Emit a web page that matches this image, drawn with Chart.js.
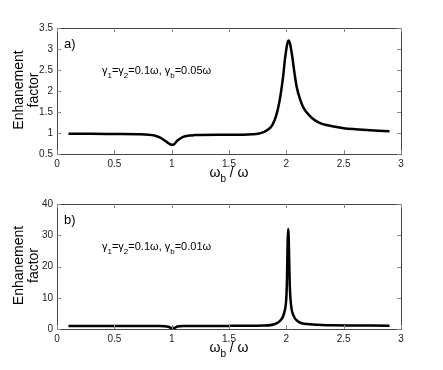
<!DOCTYPE html>
<html>
<head>
<meta charset="utf-8">
<script src="https://cdn.jsdelivr.net/npm/chart.js@4.4.0/dist/chart.umd.min.js"></script>
<style>
  body { margin: 0; background: #fff; }
  .box { position: absolute; left: 0; width: 443px; height: 185px; }
</style>
</head>
<body>
<div class="box" style="top:0"><canvas id="chartA"></canvas></div>
<div class="box" style="top:185px"><canvas id="chartB"></canvas></div>
<script>
// panel a) gamma_b = 0.05 omega
var xA = [0.1, 0.3, 0.5, 0.7, 0.8, 0.85, 0.9, 0.95, 1.0, 1.02, 1.05, 1.1, 1.15, 1.2, 1.4, 1.6, 1.7, 1.75,
          1.8, 1.85, 1.88, 1.91, 1.94, 1.97, 1.99, 2.01, 2.02, 2.03, 2.05, 2.07, 2.09, 2.12, 2.15, 2.2,
          2.25, 2.3, 2.35, 2.4, 2.45, 2.5, 2.6, 2.7, 2.8, 2.9];
var yA = [0.98, 0.98, 0.975, 0.97, 0.96, 0.94, 0.89, 0.80, 0.72, 0.73, 0.82, 0.91, 0.94, 0.95, 0.96, 0.96, 0.97, 0.98,
          1.02, 1.1, 1.2, 1.4, 1.75, 2.3, 2.8, 3.15, 3.2, 3.15, 2.85, 2.45, 2.1, 1.8, 1.6, 1.42,
          1.3, 1.23, 1.19, 1.16, 1.135, 1.115, 1.09, 1.07, 1.055, 1.04];

// panel b) gamma_b = 0.01 omega
var xB = [0.1, 0.5, 0.9, 0.97, 1.0, 1.02, 1.05, 1.1, 1.5, 1.8, 1.9, 1.95, 1.98, 2.0, 2.005, 2.01, 2.015,
          2.02, 2.025, 2.03, 2.04, 2.06, 2.1, 2.2, 2.4, 2.9];
var yB = [1.0, 1.0, 0.95, 0.7, 0.3, 0.3, 0.8, 0.95, 1.0, 1.1, 1.6, 2.8, 5, 10, 15, 25, 32,
          30, 22, 14, 8, 4.5, 2.5, 1.5, 1.2, 1.05];

var xTicks = [0, 0.5, 1, 1.5, 2, 2.5, 3];
var yTicksA = [0.5, 1, 1.5, 2, 2.5, 3, 3.5];
var yTicksB = [0, 10, 20, 30, 40];

var font = "'Liberation Sans', Arial, sans-serif";

function pts(xs, ys) {
  var out = [];
  for (var i = 0; i < xs.length; i++) out.push({ x: xs[i], y: ys[i] });
  return out;
}

// box, inward ticks, labels
var decor = {
  id: "decor",
  afterDraw: function(chart) {
    var c = chart.ctx, a = chart.chartArea, o = chart.options.plugins.decor;
    var sx = chart.scales.x, sy = chart.scales.y;
    c.save();
    c.strokeStyle = "#444";
    c.lineWidth = 1;
    c.strokeRect(a.left + 0.5, a.top + 0.5, a.right - a.left, a.bottom - a.top);
    c.strokeStyle = "#888";
    c.beginPath();
    xTicks.forEach(function(t) {
      var px = Math.round(sx.getPixelForValue(t)) + 0.5;
      c.moveTo(px, a.bottom); c.lineTo(px, a.bottom - 4);
      c.moveTo(px, a.top); c.lineTo(px, a.top + 4);
    });
    o.yTicks.forEach(function(t) {
      var py = Math.round(sy.getPixelForValue(t)) + 0.5;
      c.moveTo(a.left, py); c.lineTo(a.left + 4, py);
      c.moveTo(a.right, py); c.lineTo(a.right - 4, py);
    });
    c.stroke();

    c.fillStyle = "#000";
    c.textBaseline = "alphabetic";
    c.font = "13px " + font;
    c.textAlign = "left";
    c.fillText(o.tag, 64, a.top + 20);

    // annotation with subscripts
    var x = 102, y = a.top + 46;
    var parts = [["\u03b3", 0], ["1", 1], ["=\u03b3", 0], ["2", 1], ["=0.1\u03c9, \u03b3", 0], ["b", 1], [o.gb, 0]];
    parts.forEach(function(p) {
      c.font = (p[1] ? "8px " : "11px ") + font;
      c.fillText(p[0], x, y + (p[1] ? 4 : 0));
      x += c.measureText(p[0]).width;
    });

    // x title
    c.font = "14px " + font;
    var w1 = c.measureText("\u03c9").width;
    c.font = "10px " + font;
    var w2 = c.measureText("b").width;
    c.font = "14px " + font;
    var w3 = c.measureText(" / \u03c9").width;
    var tx = (a.left + a.right) / 2 - (w1 + w2 + w3) / 2;
    var ty = a.bottom + 23;
    c.fillText("\u03c9", tx, ty);
    c.font = "10px " + font;
    c.fillText("b", tx + w1, ty + 5);
    c.font = "14px " + font;
    c.fillText(" / \u03c9", tx + w1 + w2, ty);

    // y title
    c.translate(0, (a.top + a.bottom) / 2 - 1);
    c.rotate(-Math.PI / 2);
    c.textAlign = "center";
    c.font = "14px " + font;
    c.fillText("Enhanement", 0, 23);
    c.fillText("factor", 0, 38);
    c.restore();
  }
};

function makeChart(id, xs, ys, yMin, yMax, yStep, yTicks, tag, gb, padTop, xHeight) {
  return new Chart(document.getElementById(id), {
    type: "scatter",
    data: {
      datasets: [{
        data: pts(xs, ys),
        showLine: true,
        borderColor: "#000",
        borderWidth: 2.5,
        pointRadius: 0,
        cubicInterpolationMode: "monotone",
        tension: 0.4
      }]
    },
    options: {
      responsive: false,
      animation: false,
      devicePixelRatio: 1,
      layout: { padding: { top: padTop, right: 42, left: 0, bottom: 0 } },
      plugins: {
        legend: { display: false },
        tooltip: { enabled: false },
        decor: { yTicks: yTicks, tag: tag, gb: gb }
      },
      scales: {
        x: {
          type: "linear", min: 0, max: 3,
          grid: { display: false, drawTicks: false },
          border: { display: false },
          ticks: {
            stepSize: 0.5, padding: 4, color: "#222", font: { family: font, size: 10 },
            callback: function(v) { return String(v); }
          },
          afterFit: function(s) { s.height = xHeight; }
        },
        y: {
          type: "linear", min: yMin, max: yMax,
          grid: { display: false, drawTicks: false },
          border: { display: false },
          ticks: {
            stepSize: yStep, padding: 4, color: "#222", font: { family: font, size: 10 },
            callback: function(v) { return String(v); }
          },
          afterFit: function(s) { s.width = 57; }
        }
      }
    },
    plugins: [decor]
  });
}

document.getElementById("chartA").width = 443;
document.getElementById("chartA").height = 185;
document.getElementById("chartB").width = 443;
document.getElementById("chartB").height = 185;

makeChart("chartA", xA, yA, 0.5, 3.5, 0.5, yTicksA, "a)", "=0.05\u03c9", 28, 31);
makeChart("chartB", xB, yB, 0, 40, 10, yTicksB, "b)", "=0.01\u03c9", 19, 41);
</script>
</body>
</html>
